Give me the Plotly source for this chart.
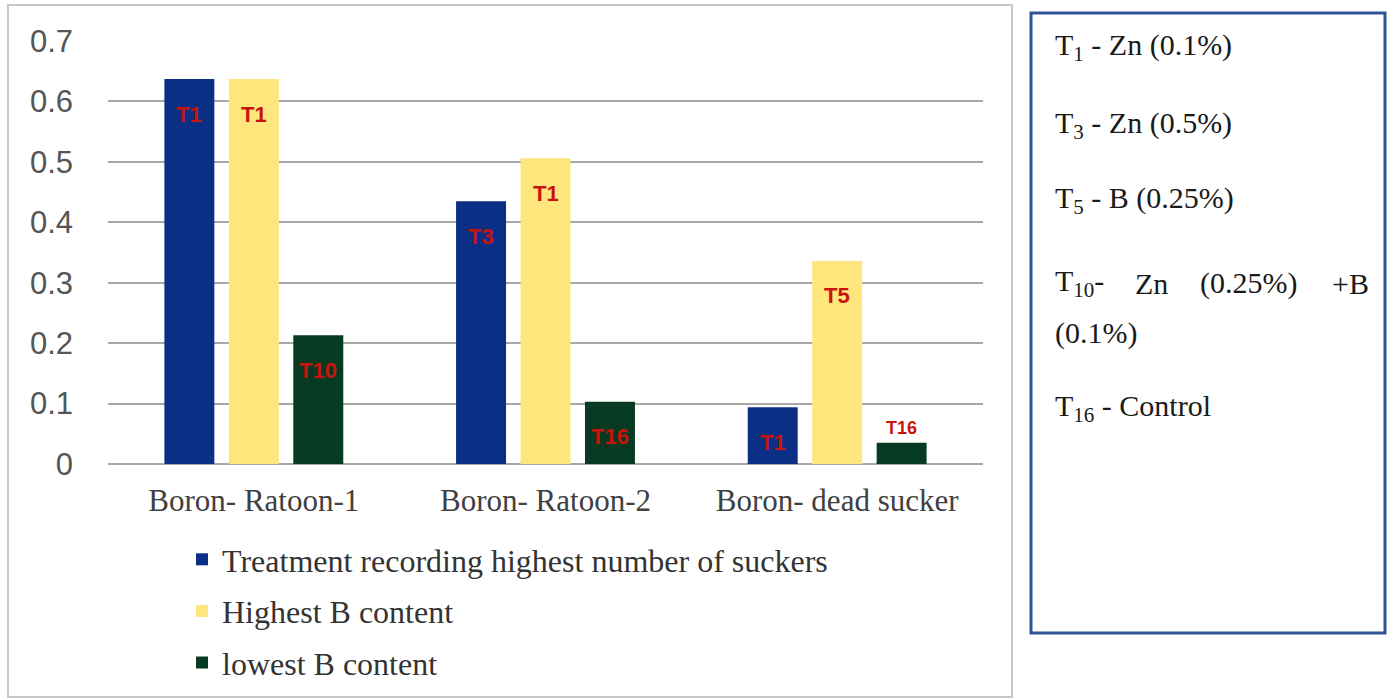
import plotly.graph_objects as go

# ---------------- data ----------------
categories = ["Boron- Ratoon-1", "Boron- Ratoon-2", "Boron- dead sucker"]
series_names = [
    "Treatment recording highest number of suckers",
    "Highest B content",
    "lowest B content",
]
suckers_vals = [0.637, 0.435, 0.094]
high_b_vals = [0.637, 0.506, 0.336]
low_b_vals = [0.213, 0.103, 0.035]
suckers_labels = ["T1", "T3", "T1"]
high_b_labels = ["T1", "T1", "T5"]
low_b_labels = ["T10", "T16", "T16"]
y_tick_vals = [0, 0.1, 0.2, 0.3, 0.4, 0.5, 0.6, 0.7]
y_tick_text = ["0", "0.1", "0.2", "0.3", "0.4", "0.5", "0.6", "0.7"]
key_lines = [
    "T<sub>1</sub> - Zn (0.1%)",
    "T<sub>3</sub> - Zn (0.5%)",
    "T<sub>5</sub> - B (0.25%)",
    "T<sub>10</sub>-",
    "(0.1%)",
    "T<sub>16</sub> - Control",
]
key_line_extra = ["Zn", "(0.25%)", "+B"]

# ---------------- layout helpers ----------------
W, H = 1387, 699
L, R, T, B = 108, 983, 41, 464


def px(x):
    return (x - L) / (R - L)


def py(y):
    return (B - y) / (B - T)


colors = ["#0B2F85", "#FFE67C", "#073A22"]
label_color = "#C8140C"
bargap = 0.337
bargroupgap = 0.225

values = [suckers_vals, high_b_vals, low_b_vals]
labels = [suckers_labels, high_b_labels, low_b_labels]

fig = go.Figure()
for i, (name, vals) in enumerate(zip(series_names, values)):
    fig.add_trace(go.Bar(
        x=categories, y=vals, name=name,
        marker=dict(color=colors[i], line=dict(width=0)),
        legendgroup=f"g{i}",
        hoverinfo="skip",
    ))

annotations = []
cat_w = (R - L) / len(categories)
slot = cat_w * (1 - bargap) / 3
for i, (vals, labs) in enumerate(zip(values, labels)):
    for cat, v, lab in zip(categories, vals, labs):
        small = v < 0.06
        annotations.append(dict(
            x=cat, y=v, xref="x", yref="y", text=f"<b>{lab}</b>",
            showarrow=False, xshift=(i - 1) * slot,
            yshift=3 if small else -35,
            yanchor="bottom" if small else "middle",
            font=dict(family="Liberation Sans, Arial", size=18 if small else 22,
                      color=label_color),
        ))

# key box text
key_font = dict(family="Liberation Serif, Times New Roman", size=30, color="#1a1a1a")
key_y = [47, 125, 200, 283, 333, 408]
for txt, yy in zip(key_lines, key_y):
    annotations.append(dict(x=px(1053), y=py(yy), xref="paper", yref="paper",
                            text=txt, showarrow=False, xanchor="left",
                            yanchor="middle", font=key_font))
for txt, xx in zip(key_line_extra, [1133, 1198, 1330]):
    annotations.append(dict(x=px(xx), y=py(283), xref="paper", yref="paper",
                            text=txt, showarrow=False, xanchor="left",
                            yanchor="middle", font=key_font))

shapes = [
    # chart frame
    dict(type="rect", xref="paper", yref="paper",
         x0=px(8), x1=px(1012), y0=py(697), y1=py(5),
         line=dict(color="#C8C8C8", width=2), layer="below"),
    # key box
    dict(type="rect", xref="paper", yref="paper",
         x0=px(1031), x1=px(1385), y0=py(633), y1=py(13),
         line=dict(color="#2F5597", width=3), layer="below"),
]

fig.update_layout(
    width=W, height=H,
    margin=dict(l=L, r=W - R, t=T, b=H - B, pad=0, autoexpand=False),
    paper_bgcolor="white", plot_bgcolor="white",
    barmode="group", bargap=bargap, bargroupgap=bargroupgap,
    showlegend=True,
    legend=dict(
        x=182 / W, y=(H - 532) / H, xref="container", yref="container",
        xanchor="left", yanchor="top",
        font=dict(family="Liberation Serif, Times New Roman", size=32, color="#333333"),
        tracegroupgap=7, bgcolor="rgba(0,0,0,0)",
        traceorder="grouped",
    ),
    annotations=annotations,
    shapes=shapes,
    xaxis=dict(
        showgrid=False, showline=False, zeroline=False,
        tickfont=dict(family="Liberation Serif, Times New Roman", size=31, color="#404040"),
        ticklabelstandoff=15, fixedrange=True, automargin=False,
    ),
    yaxis=dict(
        range=[0, 0.7], tickvals=y_tick_vals, ticktext=y_tick_text,
        showgrid=True, gridcolor="#A8A8A8", gridwidth=1.5,
        zeroline=True, zerolinecolor="#A8A8A8", zerolinewidth=1.5,
        showline=False,
        tickfont=dict(family="Liberation Sans, Arial", size=31, color="#555555"),
        ticklabelstandoff=34, fixedrange=True, automargin=False,
    ),
)

fig.write_html("out.html")
